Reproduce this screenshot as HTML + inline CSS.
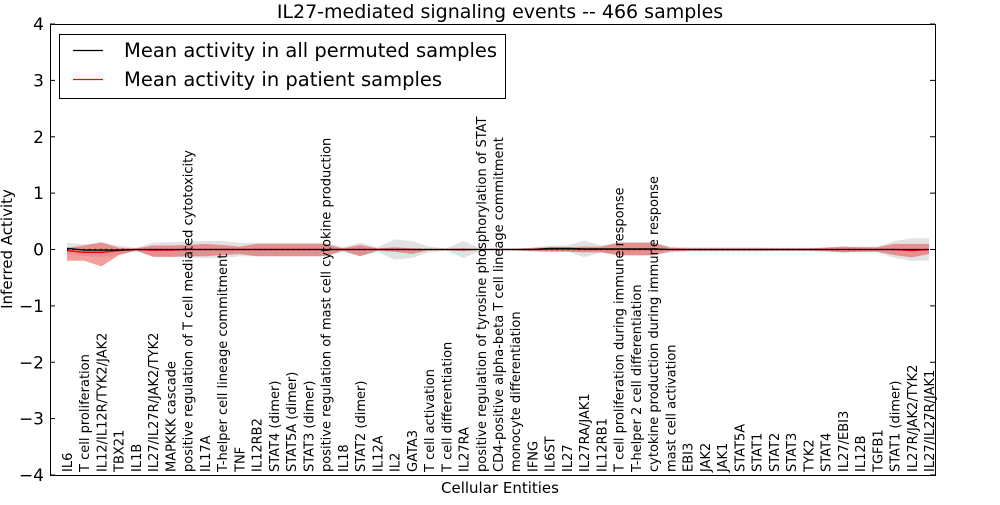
<!DOCTYPE html>
<html><head><meta charset="utf-8"><style>
body{margin:0;background:#fff;font-family:"Liberation Sans","DejaVu Sans",sans-serif}
svg text{font-family:"DejaVu Sans","Liberation Sans",sans-serif}
</style></head><body>
<svg id="c" width="1000" height="500" xmlns="http://www.w3.org/2000/svg"></svg>
<script>
const categories=["IL6","T cell proliferation","IL12/IL12R/TYK2/JAK2","TBX21","IL1B","IL27/IL27R/JAK2/TYK2","MAPKKK cascade","positive regulation of T cell mediated cytotoxicity","IL17A","T-helper cell lineage commitment","TNF","IL12RB2","STAT4 (dimer)","STAT5A (dimer)","STAT3 (dimer)","positive regulation of mast cell cytokine production","IL18","STAT2 (dimer)","IL12A","IL2","GATA3","T cell activation","T cell differentiation","IL27RA","positive regulation of tyrosine phosphorylation of STAT","CD4-positive alpha-beta T cell lineage commitment","monocyte differentiation","IFNG","IL6ST","IL27","IL27RA/JAK1","IL12RB1","T cell proliferation during immune response","T-helper 2 cell differentiation","cytokine production during immune response","mast cell activation","EBI3","JAK2","JAK1","STAT5A","STAT1","STAT2","STAT3","TYK2","STAT4","IL27/EBI3","IL12B","TGFB1","STAT1 (dimer)","IL27R/JAK2/TYK2","IL27/IL27R/JAK1"];
const permMean=[0.02,-0.01,-0.01,-0.01,0,0,0,0,0,0,0,0,0,0,0,0,0,0,0,0,0,0,0,0,0,0,0,0,0.02,0.02,0.01,0.01,0.01,0.01,0.01,0,0,0,0,0,0,0,0,0,0,0,0,0,0,0,0];
const permHalf=[0.1,0.1,0.12,0.08,0.03,0.12,0.13,0.14,0.15,0.15,0.12,0.12,0.12,0.12,0.12,0.12,0.04,0.12,0.04,0.18,0.15,0.05,0.02,0.15,0.02,0.02,0.02,0.03,0.05,0.05,0.15,0.06,0.12,0.12,0.12,0.05,0.04,0.04,0.04,0.04,0.04,0.03,0.03,0.03,0.04,0.05,0.05,0.05,0.15,0.2,0.2];
const patMean=[-0.02,-0.05,-0.05,-0.02,0,-0.01,-0.01,0,0,0,0,0,0,0,0,0,0,0,0,0,0,0,0,0,0,0,0,0,0,0,0,0,0,0,0,0,0,0,0,0,0,0,0,0,0,0,0,0,0,-0.02,0];
const patUp=[0.05,0.12,0.18,0.05,0.02,0.08,0.08,0.08,0.1,0.08,0.05,0.1,0.1,0.1,0.1,0.1,0.02,0.08,0.02,0.04,0.02,0.01,0.01,0.02,0,0,0.01,0.03,0.04,0.04,0.05,0.05,0.12,0.12,0.12,0.03,0.02,0.02,0.02,0.02,0.02,0.02,0.02,0.02,0.03,0.05,0.04,0.04,0.1,0.12,0.1];
const patDn=[0.18,0.15,0.25,0.08,0.02,0.12,0.12,0.12,0.12,0.1,0.08,0.12,0.12,0.12,0.12,0.12,0.02,0.12,0.02,0.04,0.08,0.01,0.01,0.03,0,0,0.01,0.03,0.04,0.04,0.05,0.05,0.1,0.1,0.1,0.03,0.02,0.02,0.02,0.02,0.02,0.02,0.02,0.02,0.03,0.05,0.04,0.04,0.1,0.12,0.08];
const yTicks=[-4,-3,-2,-1,0,1,2,3,4];
const NS="http://www.w3.org/2000/svg",svg=document.getElementById('c');
const L=50,R=935,T=24,B=475;
const x=i=>67+i*(929-67)/(categories.length-1);
const y=v=>T+(4-v)*(B-T)/8;
function mk(t,a,p){const e=document.createElementNS(NS,t);for(const k in a)e.setAttribute(k,a[k]);(p||svg).appendChild(e);return e;}
function band(up,dn,fill,name){let d="";categories.forEach((c,i)=>{d+=(i?"L":"M")+x(i)+","+y(up[i])});for(let i=categories.length-1;i>=0;i--)d+="L"+x(i)+","+y(dn[i]);
const p=mk('path',{d:d+"Z",fill:fill});

}
band(permMean.map((m,i)=>m+permHalf[i]),permMean.map((m,i)=>m-permHalf[i]),"rgba(190,190,190,0.45)","permuted-band");
band(patMean.map((m,i)=>m+patUp[i]),patMean.map((m,i)=>m-patDn[i]),"rgba(232,60,60,0.5)","patient-band");
function line(arr,stroke,name,dash){const p=mk('polyline',{points:arr.map((v,i)=>x(i)+","+y(v)).join(" "),fill:"none",stroke:stroke,"stroke-width":1.3});if(dash)p.setAttribute('stroke-dasharray',dash);

}
line(patMean,"#e00","patient-mean-line");
line(permMean,"#000","permuted-mean-line");
line(categories.map(()=>0),"#000","zero-dotted-line","1.5,4");
const fr=mk('rect',{x:L+0.5,y:T+0.5,width:R-L,height:B-T,fill:"none",stroke:"#000"});


yTicks.forEach(v=>{mk('line',{x1:L,x2:L+5,y1:y(v),y2:y(v),stroke:"#000"});mk('line',{x1:R,x2:R-5,y1:y(v),y2:y(v),stroke:"#000"});
const t=mk('text',{x:L-6,y:y(v)+6,"text-anchor":"end","font-size":17});t.textContent=v===0?"0":(v<0?"\u2212"+(-v):v);

});
categories.forEach((c,i)=>{const t=mk('text',{transform:`translate(${x(i)+5},${B-3}) rotate(-90)`,"font-size":13});t.textContent=c;

});
const ti=mk('text',{x:500,y:18,"text-anchor":"middle","font-size":19});ti.textContent="IL27-mediated signaling events -- 466 samples";


const xl=mk('text',{x:500,y:493,"text-anchor":"middle","font-size":15});xl.textContent="Cellular Entities";


const yl=mk('text',{transform:"translate(12,249) rotate(-90)","text-anchor":"middle","font-size":15});yl.textContent="Inferred Activity";


const lg=mk('g',{});


mk('rect',{x:59.5,y:34.5,width:446,height:64,fill:"#fff",stroke:"#000"},lg);
mk('line',{x1:73,x2:103,y1:50.5,y2:50.5,stroke:"#000","stroke-width":1.3},lg);
mk('line',{x1:73,x2:103,y1:79.5,y2:79.5,stroke:"#f00","stroke-width":1.3},lg);
const l1=mk('text',{x:124,y:57,"font-size":19.5},lg);l1.textContent="Mean activity in all permuted samples";


const l2=mk('text',{x:124,y:86,"font-size":19.5},lg);l2.textContent="Mean activity in patient samples";


</script>
</body></html>
